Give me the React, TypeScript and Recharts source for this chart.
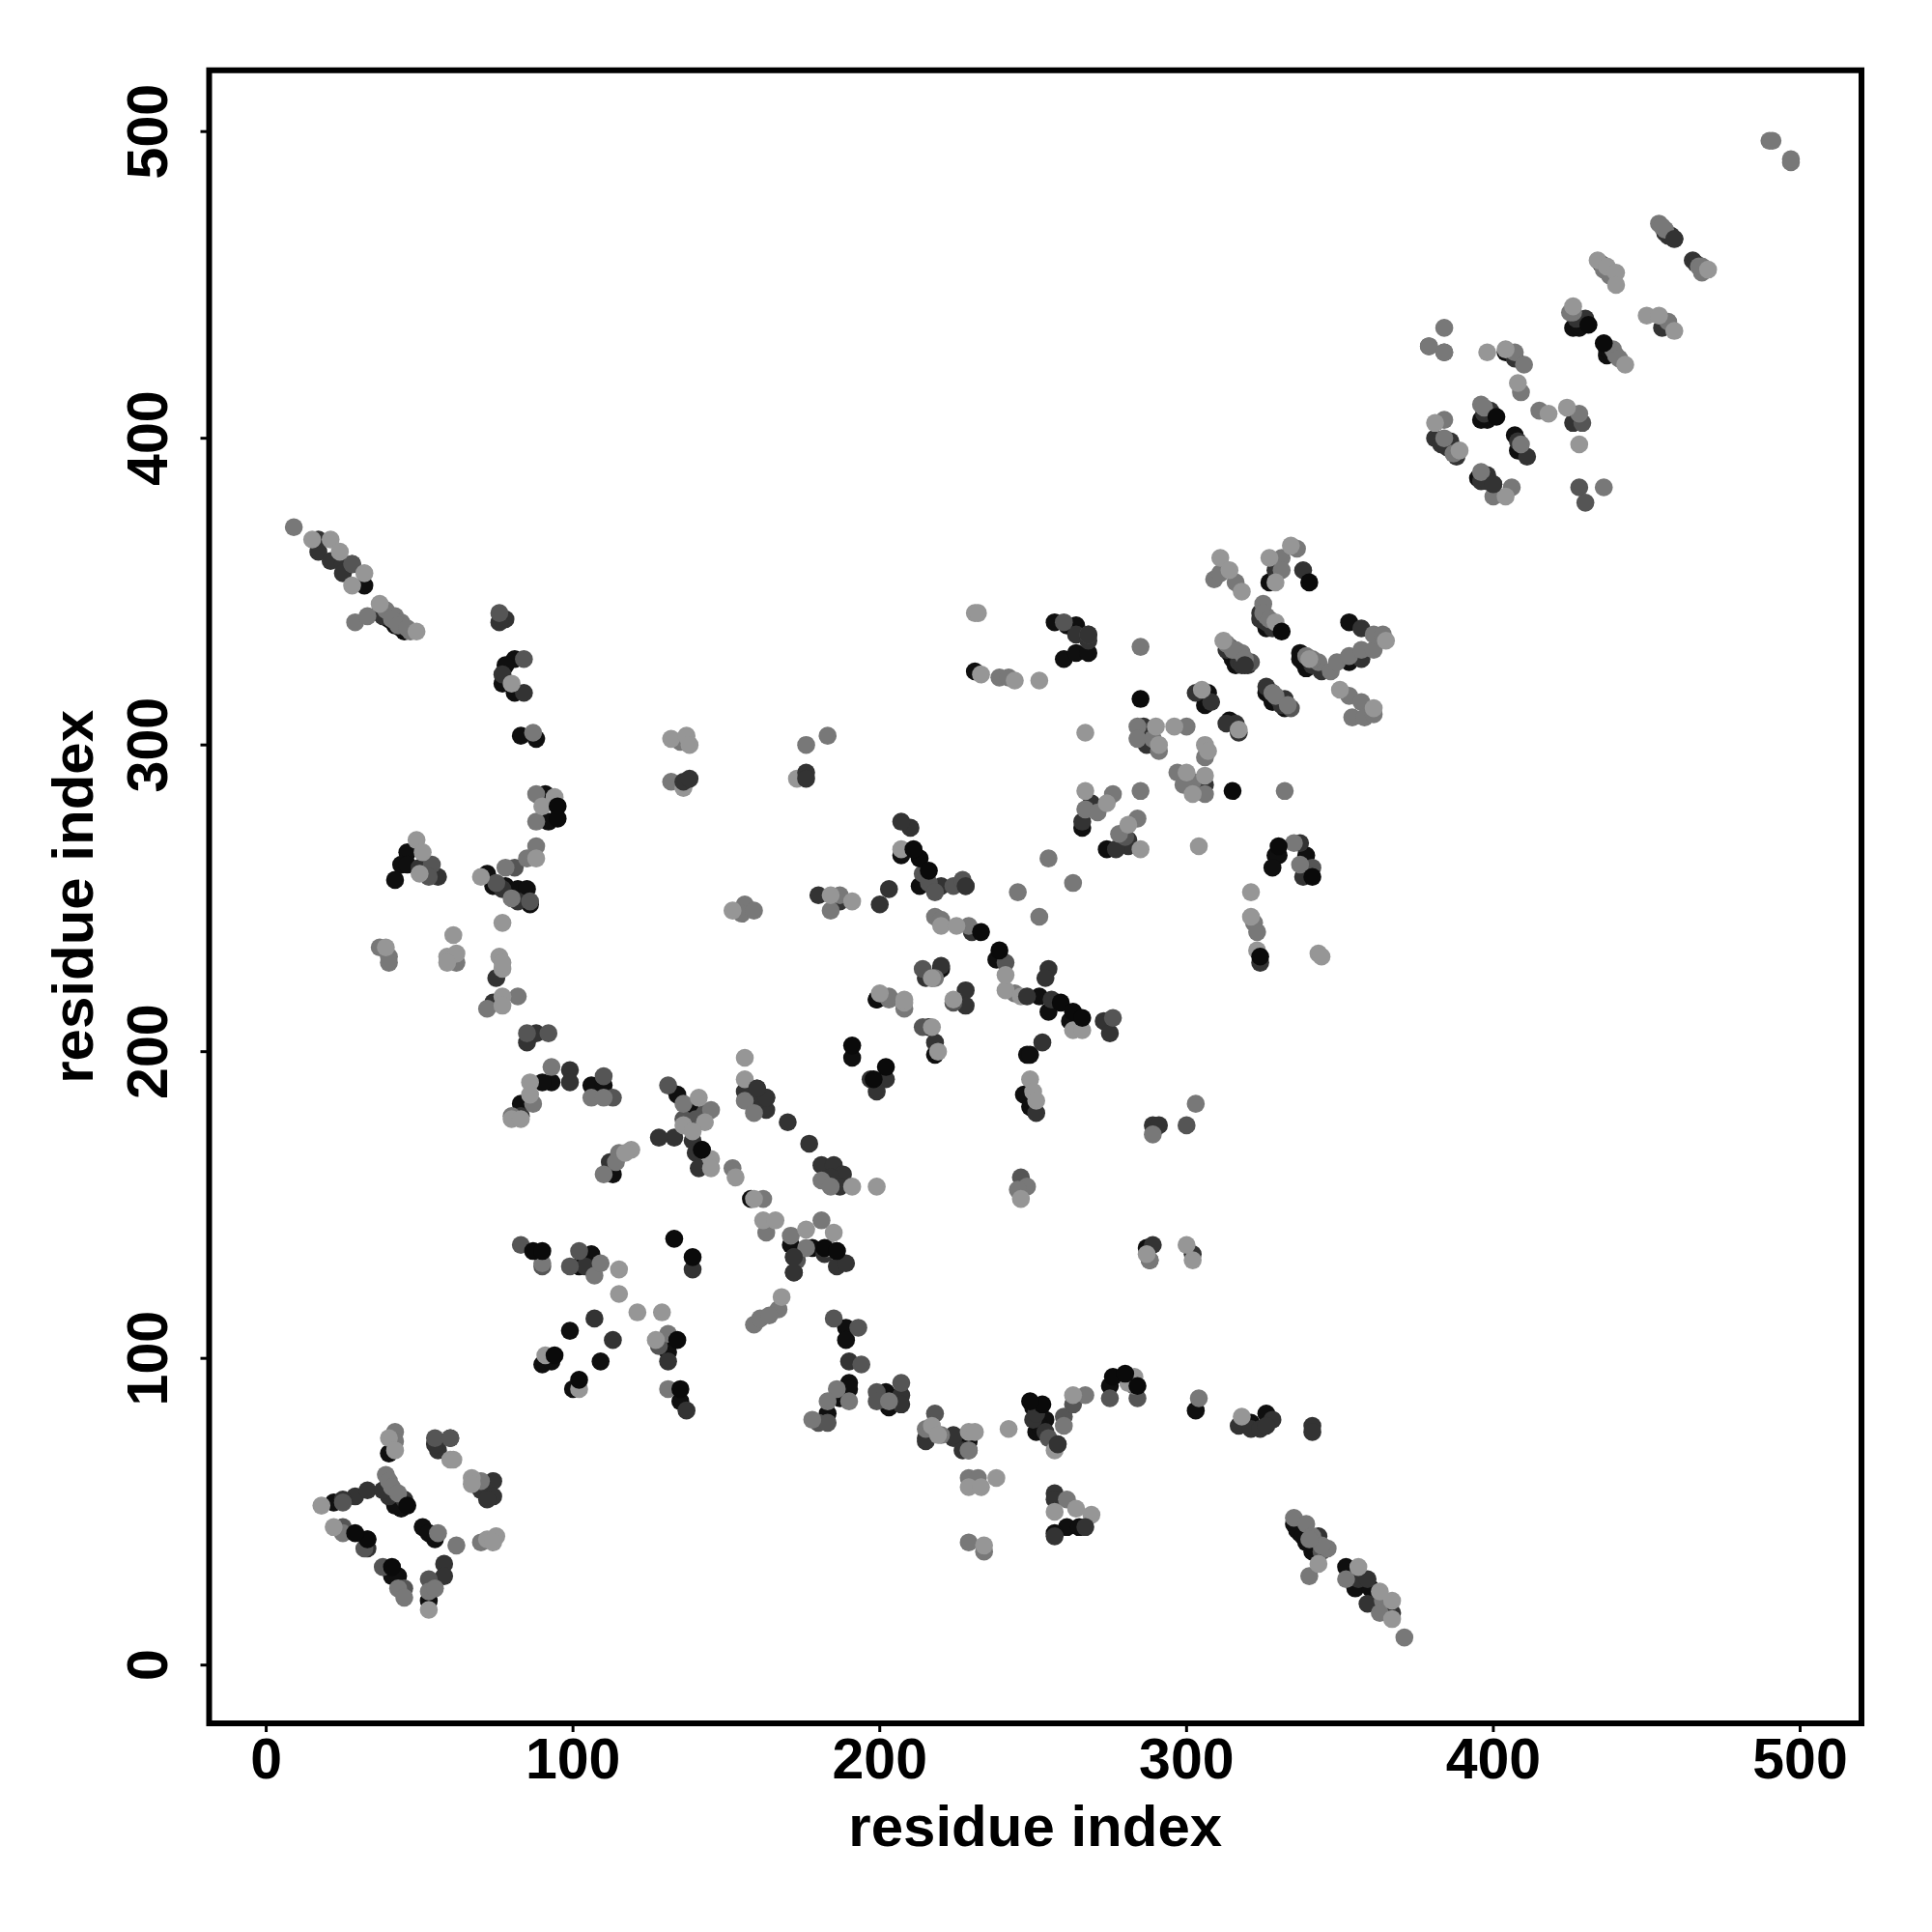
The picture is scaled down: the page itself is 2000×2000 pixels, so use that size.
import React from 'react';
import { ScatterChart, Scatter, XAxis, YAxis, ReferenceArea } from 'recharts';

type Pair = [number, number];

const tickValues = [0, 100, 200, 300, 400, 500];

// contacts, grouped by grey level, in drawing order
const blackPairs: Pair[] = [
  [99, 109], [109, 99], [90, 98], [93, 99], [100, 90], [130, 105], [131, 102], [135, 86], [22, 53], [40, 69],
  [44, 51], [42, 52], [51, 45], [53, 43], [55, 41], [41, 29], [43, 29], [53, 21], [83, 183], [93, 190], [90, 190],
  [106, 189], [110, 189], [134, 186], [138, 182], [142, 168], [113, 160], [171, 137], [178, 136], [186, 135],
  [158, 152], [106, 134], [102, 130], [190, 92], [190, 90], [187, 87], [183, 82], [189, 110], [189, 106],
  [202, 89], [203, 84], [220, 227], [191, 198], [199, 217], [229, 73], [251, 76], [254, 80], [261, 45], [265, 45],
  [257, 43], [275, 91], [287, 136], [303, 83], [320, 79], [321, 79], [326, 82], [335, 46], [337, 43], [339, 40],
  [341, 37], [352, 32], [355, 25], [360, 25], [32, 352], [42, 339], [45, 337], [81, 328], [78, 326], [77, 320],
  [81, 317], [83, 303], [88, 302], [91, 284], [92, 275], [46, 265], [44, 261], [46, 261], [42, 256], [72, 258],
  [74, 254], [78, 254], [82, 253], [85, 253], [86, 248], [207, 264], [213, 254], [238, 230], [252, 218], [255, 213],
  [262, 210], [248, 199], [249, 199], [247, 186], [249, 182], [199, 217], [216, 208], [218, 199], [266, 273],
  [274, 266], [329, 264], [330, 264], [328, 260], [339, 264], [257, 340], [261, 339], [264, 339], [260, 328],
  [264, 330], [268, 330], [231, 324], [327, 353], [326, 338], [314, 330], [315, 328], [316, 326], [326, 317],
  [328, 314], [332, 312], [337, 330], [337, 328], [339, 325], [353, 340], [353, 327], [306, 313], [307, 317],
  [314, 308], [396, 406], [398, 406], [407, 401], [408, 396], [426, 436], [428, 436], [437, 427], [404, 428],
  [395, 387], [385, 399], [338, 327], [40, 341], [44, 338], [336, 44], [338, 42], [342, 38], [428, 437], [437, 429],
  [438, 428], [398, 407], [250, 84], [252, 78],
];

const darkPairs: Pair[] = [
  [107, 113], [113, 106], [131, 99], [137, 83], [29, 55], [33, 57], [25, 54], [42, 56], [40, 55], [45, 54], [38, 57],
  [33, 38], [58, 33], [58, 29], [56, 70], [55, 72], [60, 74], [74, 60], [70, 57], [74, 55], [72, 54], [33, 41],
  [88, 206], [85, 203], [99, 194], [99, 190], [83, 179], [74, 216], [75, 224], [133, 172], [128, 172], [139, 171],
  [140, 167], [141, 162], [112, 164], [160, 188], [163, 185], [156, 187], [163, 181], [160, 184], [170, 177],
  [177, 170], [181, 163], [185, 163], [188, 160], [184, 159], [187, 156], [172, 133], [172, 128], [182, 134],
  [186, 130], [189, 131], [104, 130], [139, 129], [197, 191], [202, 191], [199, 187], [190, 99], [207, 88], [207, 85],
  [215, 74], [224, 74], [215, 73], [227, 70], [224, 75], [257, 56], [257, 54], [257, 42], [289, 137], [302, 134],
  [317, 78], [321, 77], [324, 77], [328, 80], [326, 78], [341, 78], [341, 76], [343, 42], [356, 28], [359, 28], [359, 20],
  [367, 17], [17, 367], [17, 363], [21, 360], [25, 359], [25, 356], [28, 359], [78, 341], [76, 340], [77, 323], [84, 317],
  [50, 260], [56, 257], [82, 249], [77, 253], [210, 273], [207, 275], [220, 254], [228, 254], [200, 248], [203, 253],
  [180, 251], [187, 249], [230, 239], [255, 227], [254, 224], [256, 217], [273, 210], [275, 206], [253, 203], [251, 180],
  [220, 228], [228, 220], [228, 215], [215, 224], [218, 203], [269, 281], [266, 275], [281, 269], [281, 267], [277, 266],
  [337, 268], [324, 229], [338, 257], [289, 176], [291, 176], [264, 336], [268, 334], [329, 357], [338, 357], [324, 343],
  [314, 332], [320, 326], [326, 319], [332, 315], [344, 324], [357, 338], [357, 328], [308, 314], [303, 317], [316, 307],
  [317, 304], [313, 307], [286, 306], [287, 300], [306, 287], [304, 285], [399, 409], [407, 426], [430, 439], [426, 405],
  [459, 465], [457, 466], [465, 458], [455, 436], [411, 394], [381, 400], [386, 399], [388, 394], [398, 388], [400, 385],
  [313, 331], [317, 327], [318, 326], [328, 317], [330, 315], [331, 313], [341, 326], [324, 341], [326, 340], [328, 338],
  [37, 343], [38, 342], [427, 439], [397, 408], [408, 399], [383, 398], [385, 397], [396, 386], [398, 386], [435, 457],
  [436, 456], [456, 467], [458, 466], [466, 457], [250, 80], [254, 76], [251, 82],
];

const midDarkPairs: Pair[] = [
  [90, 130], [128, 104], [25, 53], [55, 74], [60, 74], [25, 45], [32, 38], [38, 32], [45, 25], [53, 28], [85, 206],
  [92, 206], [110, 192], [113, 185], [83, 137], [102, 135], [99, 130], [131, 189], [136, 178], [140, 178], [143, 180],
  [185, 113], [193, 110], [194, 98], [199, 89], [199, 86], [207, 92], [218, 82], [260, 81], [263, 85], [275, 87],
  [284, 87], [258, 72], [173, 132], [180, 79], [183, 79], [214, 208], [217, 224], [224, 216], [288, 132], [229, 70],
  [28, 359], [76, 343], [84, 328], [54, 261], [53, 257], [75, 255], [81, 260], [86, 249], [214, 258], [216, 255],
  [218, 252], [224, 254], [227, 256], [241, 229], [214, 227], [276, 211], [246, 159], [268, 336], [260, 340],
  [300, 176], [280, 270], [341, 260], [334, 312], [321, 327], [384, 428], [379, 430], [428, 384], [430, 379], [429, 405],
  [255, 74], [344, 37],
];

const midPairs: Pair[] = [
  [131, 90], [131, 108], [42, 76], [42, 73], [70, 60], [39, 62], [40, 60], [41, 58], [43, 56], [25, 43], [62, 39], [56, 43],
  [53, 24], [55, 25], [43, 25], [45, 22], [74, 41], [70, 40], [82, 218], [72, 214], [87, 183], [80, 179], [93, 195], [106, 185],
  [110, 185], [115, 167], [114, 164], [110, 160], [136, 183], [145, 181], [152, 162], [162, 152], [163, 141], [156, 184],
  [159, 180], [171, 140], [176, 136], [181, 145], [90, 131], [107, 127], [109, 131], [181, 158], [184, 156], [178, 80],
  [186, 90], [183, 86], [190, 86], [203, 86], [167, 116], [159, 111], [161, 113], [164, 114], [203, 217], [218, 224],
  [220, 75], [215, 77], [229, 70], [229, 61], [232, 61], [229, 40], [234, 37], [261, 54], [267, 88], [260, 78], [283, 91],
  [304, 87], [288, 132], [335, 48], [339, 46], [341, 42], [346, 38], [344, 39], [340, 29], [352, 28], [364, 21], [363, 17], [371, 9],
  [9, 371], [29, 340], [33, 342], [39, 344], [42, 342], [44, 340], [47, 337], [88, 284], [88, 275], [88, 267], [85, 263], [78, 260],
  [80, 250], [87, 304], [37, 234], [40, 231], [40, 229], [62, 229], [132, 288], [176, 300], [183, 303], [135, 301], [156, 248],
  [155, 245], [159, 246], [187, 251], [184, 246], [218, 244], [220, 243], [229, 241], [244, 219], [203, 218], [208, 214], [267, 279],
  [276, 284], [271, 278], [284, 276], [278, 271], [263, 255], [255, 263], [245, 252], [252, 244], [335, 268], [337, 261], [322, 242],
  [323, 239], [289, 173], [303, 183], [248, 156], [245, 155], [332, 285], [285, 332], [239, 322], [242, 322], [309, 354], [311, 356],
  [316, 353], [336, 364], [331, 361], [331, 357], [325, 346], [326, 342], [316, 331], [318, 330], [328, 317], [343, 327], [347, 324],
  [349, 327], [353, 329], [357, 331], [361, 331], [361, 336], [364, 336], [353, 316], [357, 314], [354, 309], [358, 309], [361, 310],
  [300, 306], [284, 306], [284, 302], [289, 302], [291, 298], [306, 296], [297, 291], [302, 288], [299, 287], [306, 284], [285, 285],
  [490, 497], [491, 497], [497, 490], [497, 491], [454, 470], [456, 468], [467, 456], [468, 454], [436, 455], [426, 441], [439, 429],
  [440, 427], [457, 438], [407, 428], [410, 424], [409, 415], [415, 409], [428, 408], [384, 436], [384, 406], [396, 411], [397, 410],
  [384, 400], [396, 389], [406, 384], [436, 384], [400, 381], [379, 430], [384, 428], [313, 333], [315, 331], [319, 328], [329, 316],
  [333, 313], [339, 329], [341, 328], [325, 343], [327, 341], [41, 341], [43, 339], [46, 338], [340, 41], [425, 441], [441, 426],
  [409, 398], [387, 395], [438, 453], [455, 469], [468, 456],
];

const lightPairs: Pair[] = [
  [115, 129], [115, 121], [121, 115], [129, 115], [91, 101], [102, 90], [127, 106], [40, 74], [42, 70], [60, 67], [61, 67],
  [67, 61], [67, 59], [18, 52], [22, 45], [72, 41], [74, 41], [75, 42], [74, 40], [53, 18], [77, 218], [77, 227], [77, 215], [86, 190],
  [80, 178], [83, 178], [86, 186], [141, 185], [143, 177], [136, 176], [139, 174], [145, 165], [145, 162], [119, 168], [117, 167],
  [156, 198], [156, 191], [153, 159], [159, 152], [162, 145], [166, 145], [176, 142], [185, 141], [183, 136], [191, 156], [199, 156],
  [168, 120], [208, 216], [217, 208], [219, 200], [217, 78], [219, 75], [229, 76], [231, 76], [242, 77], [229, 58], [238, 61], [233, 58],
  [234, 39], [264, 51], [269, 49], [257, 50], [263, 88], [257, 70], [300, 137], [302, 132], [287, 134], [281, 92], [283, 94], [318, 81],
  [343, 33], [356, 32], [363, 24], [367, 21], [367, 15], [15, 367], [21, 367], [24, 363], [32, 356], [28, 352], [37, 346], [49, 337], [80, 320],
  [90, 280], [94, 283], [88, 263], [70, 257], [77, 242], [61, 238], [49, 269], [51, 265], [50, 258], [39, 234], [59, 231], [62, 232], [59, 229],
  [76, 231], [77, 229], [132, 302], [137, 303], [138, 300], [136, 286], [173, 289], [152, 246], [184, 251], [191, 249], [207, 266], [220, 241],
  [225, 241], [241, 220], [241, 225], [246, 218], [263, 207], [266, 207], [249, 191], [250, 187], [251, 184], [200, 219], [208, 217], [217, 224],
  [224, 217], [267, 285], [274, 281], [281, 274], [285, 266], [304, 267], [321, 252], [321, 244], [323, 233], [343, 232], [344, 231], [246, 152],
  [231, 343], [232, 343], [233, 323], [244, 321], [252, 321], [267, 304], [311, 361], [314, 357], [318, 350], [334, 365], [327, 361], [329, 353],
  [329, 340], [312, 334], [340, 328], [365, 334], [350, 318], [361, 312], [305, 318], [296, 306], [290, 306], [291, 300], [306, 300], [307, 298],
  [300, 291], [306, 290], [302, 284], [317, 305], [426, 443], [434, 458], [437, 456], [440, 454], [440, 450], [443, 424], [450, 440], [454, 440],
  [459, 435], [470, 455], [398, 428], [404, 429], [408, 418], [418, 408], [424, 410], [428, 398], [381, 405], [389, 396], [404, 381],
];

// pairs that sit on top of the lighter ones
const frontBlackPairs: Pair[] = [
  [94, 101], [102, 93], [41, 32], [46, 52], [33, 41], [29, 43], [135, 90], [134, 106], [87, 135], [90, 135], [133, 139], [139, 133],
  [191, 202], [202, 195], [198, 191], [233, 239], [239, 233], [259, 216], [263, 213], [266, 211], [213, 263], [216, 259], [211, 266],
  [95, 280], [95, 276], [315, 285], [285, 315], [340, 353], [331, 337], [341, 257], [330, 267], [324, 231], [284, 91], [276, 94], [280, 95],
  [253, 85], [249, 86], [431, 437], [436, 431], [401, 407], [182, 136], [186, 135], [142, 168],
];

const frontDarkPairs: Pair[] = [
  [163, 185], [160, 188], [268, 336], [319, 326], [172, 133], [172, 128], [258, 72], [267, 45], [248, 218], [228, 254], [459, 465], [400, 385],
  [136, 288], [138, 289], [176, 291], [176, 289],
];

const greys: { pairs: Pair[]; fill: string }[] = [
  { pairs: blackPairs, fill: '#0f0f0f' },
  { pairs: darkPairs, fill: '#333333' },
  { pairs: midDarkPairs, fill: '#555555' },
  { pairs: midPairs, fill: '#787878' },
  { pairs: lightPairs, fill: '#969696' },
  { pairs: frontBlackPairs, fill: '#0a0a0a' },
  { pairs: frontDarkPairs, fill: '#333333' },
];

const tickStyle = { fontFamily: 'Liberation Sans', fontWeight: 700, fontSize: 59, fill: '#000' };
const titleStyle = { ...tickStyle, fontSize: 60 };

const XTick = ({ x, y, payload }: any) => (
  <text x={x} y={y + 46} textAnchor="middle" style={tickStyle}>{payload.value}</text>
);

const YTick = ({ x, y, payload }: any) => (
  <text transform={`translate(${x - 33},${y}) rotate(-90)`} textAnchor="middle" style={tickStyle}>{payload.value}</text>
);

const Dot = ({ cx, cy, fill }: any) => <circle cx={cx} cy={cy} r={9.3} fill={fill} />;

const App = () => (
  <div style={{ position: 'absolute', left: 0, top: 0, width: 2000, height: 2000, background: '#fff' }}>
    <ScatterChart width={2000} height={2000} margin={{ top: 72.7, right: 73, bottom: 0, left: 0 }}>
      <XAxis
        type="number"
        dataKey="x"
        domain={[-18.6, 520]}
        ticks={tickValues}
        allowDataOverflow
        axisLine={false}
        tickSize={9}
        tickLine={{ stroke: '#000', strokeWidth: 3 }}
        tick={<XTick />}
        height={216}
        label={{ value: 'residue index', position: 'insideBottom', offset: 89, style: titleStyle }}
      />
      <YAxis
        type="number"
        dataKey="y"
        domain={[-19, 520]}
        ticks={tickValues}
        allowDataOverflow
        axisLine={false}
        tickSize={9}
        tickLine={{ stroke: '#000', strokeWidth: 3 }}
        tick={<YTick />}
        width={216.5}
        label={{ value: 'residue index', angle: -90, position: 'insideLeft', offset: 75, style: { ...titleStyle, textAnchor: 'middle' } }}
      />
      {greys.map((g, i) => (
        <Scatter
          key={i}
          data={g.pairs.map(([x, y]) => ({ x, y }))}
          fill={g.fill}
          shape={<Dot />}
          isAnimationActive={false}
        />
      ))}
      <ReferenceArea x1={-18.6} x2={520} y1={-19} y2={520} fill="none" stroke="#000" strokeWidth={6} ifOverflow="visible" />
    </ScatterChart>
  </div>
);

export default App;
